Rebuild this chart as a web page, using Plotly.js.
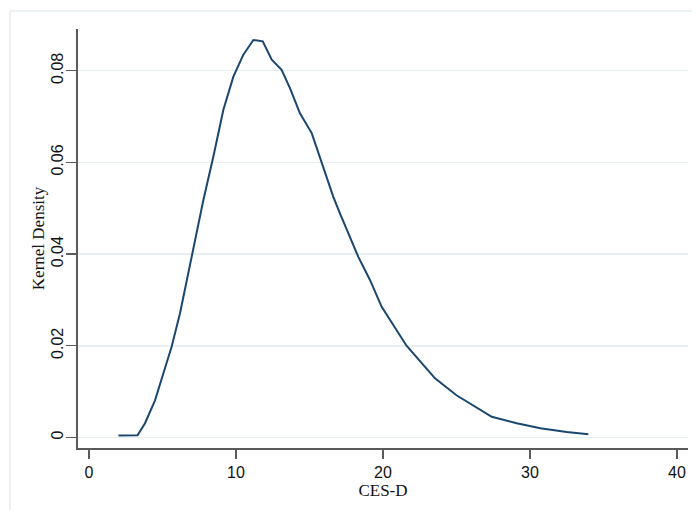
<!DOCTYPE html>
<html>
<head>
<meta charset="utf-8">
<script src="https://cdn.plot.ly/plotly-3.0.1.min.js"></script>
<style>
  html, body { margin: 0; padding: 0; background: #ffffff; }
  #chart { width: 692px; height: 510px; }
</style>
</head>
<body>
<div id="chart"></div>
<script>
// CES-D score values (x) and kernel density estimates (y)
const cesd = [2.0, 3.3, 3.81, 4.49, 5.06, 5.62, 6.19, 6.76, 7.37, 7.78, 8.46, 9.14, 9.82, 10.5, 11.18, 11.82, 12.43, 13.1, 13.67, 14.35, 15.15, 15.83, 16.62, 17.07, 18.32, 19.12, 19.91, 21.6, 23.54, 25.0, 25.9, 27.4, 29.1, 30.7, 32.5, 33.97];
const density = [0.0004, 0.0005, 0.0031, 0.0081, 0.014, 0.0198, 0.0271, 0.0358, 0.0453, 0.0518, 0.0613, 0.0715, 0.0787, 0.0835, 0.0867, 0.0864, 0.0824, 0.0802, 0.0762, 0.0707, 0.0664, 0.0598, 0.0525, 0.0489, 0.0394, 0.0343, 0.0285, 0.020, 0.0129, 0.0092, 0.0074, 0.0045, 0.0031, 0.002, 0.0012, 0.0007];
const xTicks = [0, 10, 20, 30, 40];
const xTickLabels = ["0", "10", "20", "30", "40"];
const yTicks = [0, 0.02, 0.04, 0.06, 0.08];
const yTickLabels = ["0", "0.02", "0.04", "0.06", "0.08"];

const trace = {
  x: cesd,
  y: density,
  type: 'scatter',
  mode: 'lines',
  line: { color: '#1a476f', width: 2 },
  hoverinfo: 'x+y'
};

const tickFont = { family: 'Liberation Sans, Arial, sans-serif', size: 16, color: '#111111' };
const titleFont = { family: 'Liberation Serif, Times New Roman, serif', size: 17, color: '#111111' };

const layout = {
  width: 692,
  height: 510,
  margin: { l: 78, r: 4, t: 29, b: 62 },
  paper_bgcolor: '#ffffff',
  plot_bgcolor: '#ffffff',
  showlegend: false,
  xaxis: {
    range: [-0.75, 40.75],
    tickvals: xTicks,
    ticktext: xTickLabels,
    ticks: 'outside',
    ticklen: 9,
    tickwidth: 1.3,
    tickcolor: '#5a5a5a',
    showline: true,
    linecolor: '#5a5a5a',
    linewidth: 1.6,
    showgrid: false,
    zeroline: false,
    tickfont: tickFont,
    title: { text: 'CES-D', font: titleFont, standoff: 0 },
    automargin: false
  },
  yaxis: {
    range: [-0.0023, 0.0891],
    tickvals: yTicks,
    ticktext: yTickLabels,
    tickangle: -90,
    ticklabelstandoff: -3,
    ticks: 'outside',
    ticklen: 10,
    tickwidth: 1.3,
    tickcolor: '#5a5a5a',
    showline: true,
    linecolor: '#5a5a5a',
    linewidth: 1.6,
    showgrid: true,
    gridcolor: '#e6f0f2',
    gridwidth: 1.5,
    zeroline: false,
    tickfont: tickFont,
    title: { text: 'Kernel Density', font: titleFont, standoff: 0 },
    automargin: false
  },
  shapes: [
    { type: 'line', xref: 'paper', yref: 'paper', x0: -0.1115, x1: 1.02, y0: 1.043, y1: 1.043,
      line: { color: '#e6eef0', width: 1.5 }, layer: 'below' },
    { type: 'line', xref: 'paper', yref: 'paper', x0: -0.1115, x1: -0.1115, y0: 1.043, y1: -0.2,
      line: { color: '#e6eef0', width: 1.5 }, layer: 'below' }
  ]
};

Plotly.newPlot('chart', [trace], layout, { displayModeBar: false, staticPlot: true });
</script>
</body>
</html>
